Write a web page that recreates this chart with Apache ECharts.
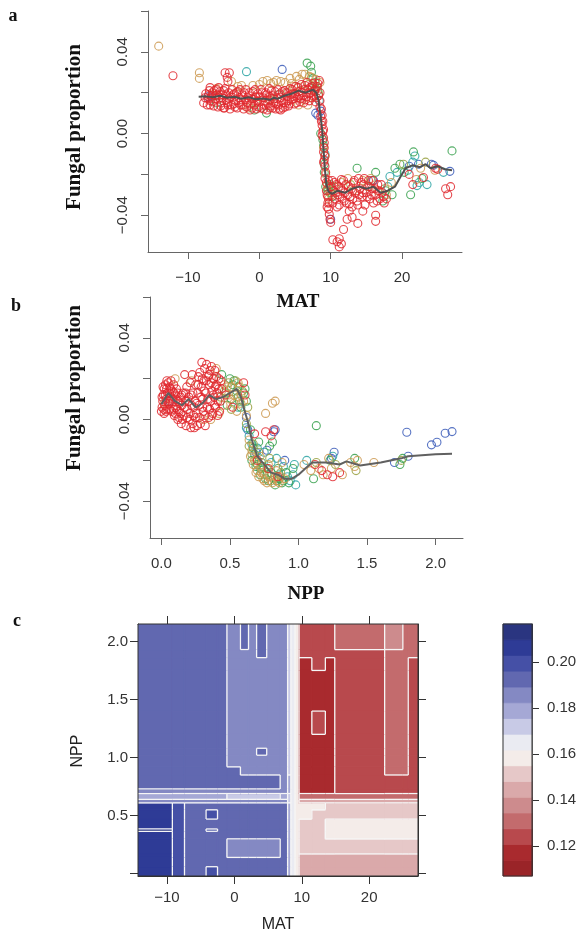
<!DOCTYPE html>
<html><head><meta charset="utf-8">
<script src="https://cdn.jsdelivr.net/npm/echarts@6/dist/echarts.min.js"></script>
<style>html,body{margin:0;padding:0;background:#fff}#chart{width:583px;height:938px}</style>
</head><body><div id="chart"></div>
<script>
// ---------------- DATA ----------------
// Panel a: MAT vs fungal proportion
const aRed = [[-12.1,0.0283],[-4.8,0.0298],[-4.2,0.0298],[-4.5,0.0275],[-4.4,0.0255],[-6.9,0.0140],[-5.0,0.0125],[1.5,0.0125],[3.0,0.0115],
[-7.8,0.0150],[-7.5,0.0195],[-7.2,0.0170],[-7.0,0.0210],[-6.8,0.0160],[-6.6,0.0200],[-6.4,0.0135],[-6.2,0.0185],[-6.0,0.0215],[-5.8,0.0130],[-5.6,0.0175],[-5.5,0.0205],[-5.3,0.0150],[-5.1,0.0190],[-4.9,0.0125],[-4.8,0.0220],[-4.6,0.0165],[-4.4,0.0140],[-4.3,0.0200],[-4.1,0.0120],[-4.0,0.0180],[-3.8,0.0215],[-3.6,0.0145],[-3.5,0.0195],[-3.3,0.0160],[-3.1,0.0125],[-3.0,0.0205],[-2.8,0.0175],[-2.6,0.0140],[-2.4,0.0190],[-2.2,0.0120],[-2.0,0.0165],[-1.9,0.0215],[-1.7,0.0150],[-1.5,0.0185],[-1.3,0.0115],[-1.1,0.0170],[-0.9,0.0205],[-0.7,0.0140],[-0.5,0.0180],[-0.4,0.0120],[-0.2,0.0195],[0.0,0.0155],[0.2,0.0215],[0.3,0.0125],[0.5,0.0175],[0.7,0.0140],[0.9,0.0200],[1.1,0.0115],[1.3,0.0165],[1.4,0.0220],[1.6,0.0135],[1.8,0.0185],[2.0,0.0150],[2.2,0.0205],[2.3,0.0120],[2.5,0.0170],[2.7,0.0140],[2.9,0.0195],[3.1,0.0160],[3.3,0.0125],[3.5,0.0210],[3.7,0.0150],[3.9,0.0180],[4.1,0.0135],[4.3,0.0220],[4.5,0.0165],[4.7,0.0195],[4.9,0.0145],[5.1,0.0230],[5.3,0.0175],[5.5,0.0205],[5.7,0.0155],[5.9,0.0240],[6.1,0.0185],[6.3,0.0215],[6.5,0.0165],[6.7,0.0250],[6.9,0.0195],[7.1,0.0225],[7.3,0.0175],[7.5,0.0245],[7.7,0.0205],[7.9,0.0155],[8.1,0.0230],[8.3,0.0185],[8.4,0.0260],[8.5,0.0130],
[-7.6,0.0175],[-7.3,0.0140],[-7.1,0.0190],[-6.9,0.0225],[-6.7,0.0180],[-6.5,0.0155],[-6.3,0.0210],[-6.1,0.0170],[-5.9,0.0190],[-5.7,0.0225],[-5.4,0.0135],[-5.2,0.0175],[-5.0,0.0210],[-4.7,0.0190],[-4.5,0.0150],[-4.2,0.0170],[-3.9,0.0140],[-3.7,0.0190],[-3.4,0.0130],[-3.2,0.0200],[-2.9,0.0150],[-2.7,0.0215],[-2.5,0.0165],[-2.3,0.0140],[-2.1,0.0200],[-1.8,0.0130],[-1.6,0.0175],[-1.4,0.0200],[-1.2,0.0145],[-1.0,0.0125],[-0.8,0.0170],[-0.6,0.0215],[-0.3,0.0160],[-0.1,0.0130],[0.1,0.0180],[0.4,0.0200],[0.6,0.0120],[0.8,0.0160],[1.0,0.0190],[1.2,0.0145],[1.5,0.0180],[1.7,0.0210],[1.9,0.0125],[2.1,0.0170],[2.4,0.0145],[2.6,0.0215],[2.8,0.0120],[3.0,0.0175],[3.2,0.0205],[3.4,0.0150],[3.6,0.0130],[3.8,0.0200],[4.0,0.0160],[4.2,0.0145],[4.4,0.0190],[4.6,0.0215],[4.8,0.0170],[5.0,0.0195],[5.2,0.0150],[5.4,0.0225],[5.6,0.0185],[5.8,0.0170],[6.0,0.0200],[6.2,0.0150],[6.4,0.0235],[6.6,0.0180],[6.8,0.0215],[7.0,0.0160],[7.2,0.0200],[7.4,0.0230],[7.6,0.0185],[7.8,0.0215],[8.0,0.0175],[8.2,0.0245],[8.5,0.0200],[8.5,0.0160],
[8.6,0.0085],[8.7,0.0060],[8.8,0.0040],[8.9,0.0010],[9.0,-0.0020],[9.1,-0.0045],[9.0,-0.0090],[9.1,-0.0130],[9.2,-0.0160],
[8.7,0.0120],[8.8,0.0090],[8.9,0.0060],[8.8,-0.0010],[9.0,0.0020],[9.1,-0.0070],[9.2,-0.0110],[9.0,-0.0140],[9.3,-0.0190],[9.2,-0.0220],[9.4,-0.0280],[9.5,-0.0360],[9.6,-0.0310],[9.8,-0.0340],[9.7,-0.0230],
[9.4,-0.0240],[9.5,-0.0300],[9.6,-0.0340],[9.7,-0.0370],[9.8,-0.0395],[9.9,-0.0420],[10.0,-0.0435],
[10.2,-0.0230],[10.4,-0.0280],[10.6,-0.0320],[10.8,-0.0250],[11.0,-0.0300],[11.2,-0.0350],[11.4,-0.0270],[11.6,-0.0320],[11.8,-0.0230],[12.0,-0.0290],[12.2,-0.0340],[12.5,-0.0260],[12.7,-0.0310],[13.0,-0.0360],[13.2,-0.0240],[13.4,-0.0290],[13.7,-0.0330],[13.9,-0.0220],[14.1,-0.0270],[14.4,-0.0310],[14.6,-0.0250],[14.8,-0.0350],[15.0,-0.0290],[15.3,-0.0230],[15.5,-0.0320],[15.8,-0.0270],[16.0,-0.0340],[16.3,-0.0300],[16.6,-0.0250],[16.9,-0.0320],[17.2,-0.0290],[17.5,-0.0340],
[10.1,-0.0260],[10.3,-0.0340],[10.5,-0.0240],[10.7,-0.0290],[10.9,-0.0360],[11.1,-0.0260],[11.3,-0.0310],[11.5,-0.0225],[11.7,-0.0280],[11.9,-0.0330],[12.1,-0.0250],[12.4,-0.0300],[12.6,-0.0345],[12.9,-0.0270],[13.1,-0.0320],[13.3,-0.0230],[13.6,-0.0280],[13.8,-0.0350],[14.0,-0.0300],[14.3,-0.0240],[14.5,-0.0290],[14.7,-0.0220],[15.1,-0.0310],[15.4,-0.0260],[15.7,-0.0300],[15.9,-0.0230],[16.2,-0.0270],[16.5,-0.0330],[16.8,-0.0280],[17.1,-0.0250],[17.4,-0.0310],[17.8,-0.0320],
[10.3,-0.0520],[10.9,-0.0530],[11.2,-0.0515],[11.5,-0.0540],[11.2,-0.0555],[11.8,-0.0470],[12.3,-0.0420],[13.0,-0.0410],[13.8,-0.0440],[16.3,-0.0400],[16.3,-0.0430],[12.6,-0.0380],[14.5,-0.0380],
[21.0,-0.0200],[21.5,-0.0250],[23.0,-0.0215],[24.7,-0.0170],[26.1,-0.0270],[26.4,-0.0300],[26.8,-0.0260],[25.0,-0.0175]];
const aTan = [[-14.1,0.0428],[-8.4,0.0298],[-8.4,0.0270],[-6.5,0.0190],[-3.9,0.0255],[-3.0,0.0230],[-1.5,0.0125],[-0.9,0.0235],[0.5,0.0255],[1.1,0.0260],[1.6,0.0245],[2.4,0.0260],[3.6,0.0250],[4.3,0.0270],[4.8,0.0230],[5.2,0.0280],[5.5,0.0140],[6.0,0.0290],[6.4,0.0290],[6.8,0.0140],[7.3,0.0275],[7.6,0.0180],[8.1,0.0230],[8.5,0.0250],[9.0,-0.0070],[9.3,-0.0200],[9.5,-0.0250],[9.7,-0.0320],[10.1,-0.0300],[11.5,-0.0240],[12.4,-0.0220],[13.1,-0.0280],[14.5,-0.0230],[15.6,-0.0220],[16.6,-0.0280],[17.8,-0.0300],[18.5,-0.0240],[22.6,-0.0170],[24.6,-0.0180],[22.0,-0.0225],
[-6.0,0.0220],[-2.5,0.0235],[0.0,0.0240],[2.0,0.0250],[3.0,0.0255],[4.5,0.0245],[5.6,0.0265],[7.0,0.0280],[7.9,0.0265]];
const aOlive = [[-0.5,0.0150],[1.5,0.0165],[4.0,0.0200],[5.8,0.0210],[6.9,0.0240],[7.7,0.0210],[8.3,0.0195],[9.2,-0.0110],[9.6,-0.0270],[10.5,-0.0260],[12.8,-0.0250],[15.2,-0.0260],[17.6,-0.0270],[20.2,-0.0150],[23.3,-0.0140]];
const aGreen = [[-6.0,0.0150],[-0.7,0.0115],[1.0,0.0100],[2.7,0.0190],[6.7,0.0345],[7.2,0.0330],[7.3,0.0300],[7.5,0.0270],[7.8,0.0250],[7.9,0.0220],[8.2,0.0210],[8.6,0.0000],[8.9,-0.0030],[9.0,-0.0060],[9.1,-0.0150],[9.1,-0.0190],[9.3,-0.0260],[9.6,-0.0280],[9.8,-0.0260],[10.0,-0.0290],[10.2,-0.0310],[9.9,-0.0250],[13.7,-0.0170],[16.3,-0.0190],[17.3,-0.0330],[17.7,-0.0280],[18.6,-0.0300],[19.0,-0.0170],[19.7,-0.0150],[20.3,-0.0190],[21.2,-0.0300],[21.6,-0.0090],[22.8,-0.0220],[27.0,-0.0085]];
const aTeal = [[-1.8,0.0303],[8.4,0.0160],[9.2,-0.0100],[15.7,-0.0230],[18.0,-0.0260],[18.3,-0.0210],[19.3,-0.0190],[20.8,-0.0180],[21.8,-0.0110],[21.5,-0.0140],[22.1,-0.0255],[22.4,-0.0240],[23.5,-0.0250],[25.8,-0.0190]];
const aBlue = [[-7.2,0.0180],[-6.7,0.0185],[3.2,0.0314],[7.9,0.0100],[8.2,0.0090],[8.6,0.0110],[10.0,-0.0420],[16.0,-0.0230],[21.0,-0.0160],[22.3,-0.0150],[24.1,-0.0150],[24.4,-0.0155],[26.7,-0.0185]];
const aLine = [[-8.5,0.0180],[-7.5,0.0182],[-6.5,0.0178],[-5.5,0.0185],[-4.5,0.0175],[-3.5,0.0180],[-2.5,0.0170],[-1.5,0.0178],[-0.5,0.0168],[0.5,0.0172],[1.5,0.0165],[2.0,0.0175],[2.5,0.0170],[3.5,0.0185],[4.5,0.0195],[5.5,0.0210],[6.5,0.0200],[7.5,0.0215],[8.0,0.0200],[8.3,0.0160],[8.6,0.0080],[8.8,0.0020],[9.0,-0.0080],[9.2,-0.0180],[9.4,-0.0250],[9.7,-0.0285],[10.2,-0.0295],[11.0,-0.0280],[12.0,-0.0290],[13.0,-0.0270],[14.0,-0.0260],[15.0,-0.0270],[16.0,-0.0260],[17.0,-0.0290],[18.0,-0.0280],[19.0,-0.0260],[19.8,-0.0210],[20.5,-0.0170],[21.5,-0.0155],[22.5,-0.0165],[23.3,-0.0150],[24.0,-0.0170],[25.0,-0.0160],[26.0,-0.0175],[27.0,-0.0180]];

// Panel b: NPP vs fungal proportion
const bRed = [[0.00,0.004],[0.005,0.006],[0.01,0.009],[0.015,0.012],[0.02,0.003],[0.02,0.015],[0.025,0.007],[0.03,0.017],[0.035,0.010],[0.04,0.019],[0.04,0.005],[0.045,0.013],[0.05,0.018],[0.055,0.008],[0.06,0.016],[0.065,0.011],[0.07,0.019],[0.075,0.004],[0.08,0.014],[0.085,0.009],
[0.09,0.017],[0.095,0.002],[0.10,0.012],[0.105,0.006],[0.11,0.015],[0.12,0.000],[0.125,0.009],[0.13,0.004],[0.14,0.011],[0.145,-0.002],[0.15,0.007],[0.16,0.013],[0.165,0.002],[0.17,0.022],[0.175,0.009],[0.18,-0.003],[0.185,0.016],[0.19,0.005],[0.20,0.011],[0.205,0.000],[0.21,0.018],[0.215,-0.004],[0.22,0.007],[0.225,0.022],[0.23,0.013],[0.235,0.002],[0.24,-0.004],[0.245,0.009],[0.25,0.017],
[0.255,0.003],[0.26,-0.003],[0.265,0.013],[0.27,0.021],[0.275,0.007],[0.28,0.023],[0.285,-0.002],[0.29,0.016],[0.295,0.028],[0.30,0.010],[0.305,0.004],[0.31,0.019],[0.315,0.025],[0.32,-0.003],[0.325,0.013],[0.33,0.027],[0.335,0.006],[0.34,0.021],[0.345,0.001],[0.35,0.017],[0.355,0.024],[0.36,0.009],[0.365,0.026],[0.37,0.014],[0.375,0.003],[0.38,0.020],[0.385,0.011],[0.39,0.024],[0.395,0.006],[0.40,0.017],[0.405,0.013],[0.41,0.002],[0.42,0.020],[0.43,0.009],[0.44,0.015],
[0.005,0.011],[0.012,0.016],[0.018,0.005],[0.028,0.012],[0.033,0.004],[0.038,0.015],[0.048,0.009],[0.058,0.013],[0.062,0.005],[0.068,0.015],[0.078,0.010],[0.088,0.005],[0.092,0.013],[0.102,0.003],[0.108,0.010],[0.115,0.005],[0.118,0.013],[0.128,0.001],[0.135,0.008],[0.142,0.003],[0.148,0.012],[0.155,0.000],[0.168,0.006],[0.178,0.013],[0.188,0.001],[0.195,0.009],[0.21,0.003],[0.218,0.012],[0.228,-0.002],[0.238,0.006],[0.248,0.001],[0.258,0.008],[0.268,0.017],[0.278,0.001],[0.288,0.011],[0.298,0.020],[0.302,0.006],[0.312,0.014],[0.318,0.002],[0.328,0.019],[0.338,0.010],[0.348,0.022],[0.352,0.005],[0.362,0.018],[0.368,0.002],[0.378,0.012],[0.388,0.007],[0.392,0.016],[0.402,0.021],[0.412,0.009],[0.418,0.015],[0.425,0.004],[0.435,0.019],
[0.47,0.012],[0.52,0.006],[0.60,0.018],[0.61,0.012],[0.68,-0.007],[0.70,-0.020],[0.76,-0.006],[0.80,-0.008],[0.82,-0.005],[0.78,-0.024],[0.85,-0.028],[1.12,-0.022],[1.17,-0.025],[1.21,-0.027],[1.25,-0.028],[1.30,-0.026]];
const bTan = [[0.02,0.008],[0.10,0.020],[0.22,0.019],[0.31,0.000],[0.36,0.000],[0.40,0.025],[0.42,0.003],[0.45,0.007],[0.48,0.016],[0.50,0.010],[0.53,0.012],[0.55,0.004],[0.57,0.016],[0.58,0.008],[0.62,0.002],[0.64,-0.010],[0.66,-0.015],[0.68,-0.020],[0.70,-0.025],[0.72,-0.018],[0.74,-0.029],[0.76,0.003],[0.78,-0.022],[0.80,-0.030],[0.81,0.008],[0.83,0.009],[0.84,-0.025],[0.86,-0.031],[0.88,-0.021],[0.90,-0.029],[1.04,-0.022],[1.09,-0.025],[1.15,-0.024],[1.18,-0.027],[1.22,-0.019],[1.24,-0.024],[1.32,-0.027],[1.38,-0.021],[1.41,-0.023],[1.43,-0.020],[1.55,-0.021],
[0.46,0.017],[0.49,0.012],[0.51,0.016],[0.53,0.008],[0.56,0.018],[0.58,0.012],[0.60,0.009],
[0.65,-0.018],[0.67,-0.022],[0.69,-0.026],[0.71,-0.028],[0.73,-0.026],[0.75,-0.030],[0.77,-0.031],[0.79,-0.028],[0.81,-0.031],[0.83,-0.028],[0.85,-0.030],[0.87,-0.028]];
const bOlive = [[0.38,0.020],[0.43,0.011],[0.46,0.014],[0.49,0.018],[0.51,0.005],[0.54,0.019],[0.56,0.011],[0.59,0.014],[0.63,0.006],[0.67,-0.012],[0.71,-0.016],[0.75,-0.027],[0.79,-0.019],[0.82,-0.029],[0.87,-0.026],[1.13,-0.021],[1.27,-0.022],[1.42,-0.025],[1.75,-0.020],
[0.62,-0.002],[0.64,-0.013],[0.66,-0.017],[0.69,-0.021],[0.73,-0.024],[0.77,-0.024]];
const bGreen = [[0.44,0.022],[0.48,0.007],[0.50,0.020],[0.52,0.017],[0.55,0.014],[0.57,0.009],[0.60,0.013],[0.62,0.009],[0.65,-0.005],[0.67,-0.014],[0.69,-0.023],[0.71,-0.011],[0.73,-0.021],[0.77,-0.027],[0.79,-0.013],[0.81,-0.011],[0.83,-0.032],[0.85,-0.024],[0.88,-0.031],[0.91,-0.026],[0.96,-0.024],[1.13,-0.003],[1.11,-0.029],[1.23,-0.020],[1.41,-0.019],[1.74,-0.022],[1.76,-0.019],
[0.47,0.013],[0.51,0.010],[0.53,0.019],[0.56,0.016],[0.58,0.006],[0.61,0.015],
[0.66,-0.020],[0.68,-0.017],[0.70,-0.022],[0.72,-0.027],[0.74,-0.023],[0.76,-0.029],[0.78,-0.030],[0.80,-0.026],[0.84,-0.030],[0.86,-0.029],[0.89,-0.030],[0.93,-0.031]];
const bTeal = [[0.56,0.006],[0.62,-0.004],[0.64,-0.008],[0.66,-0.012],[0.70,-0.014],[0.72,-0.024],[0.75,-0.016],[0.80,-0.021],[0.84,-0.019],[0.86,-0.027],[0.89,-0.023],[0.92,-0.028],[0.94,-0.030],[0.96,-0.027],[0.98,-0.032],[0.97,-0.022],[1.06,-0.020],[1.25,-0.018]];
const bBlue = [[0.06,0.009],[0.62,0.001],[0.63,-0.005],[0.69,-0.016],[0.77,-0.015],[0.82,-0.006],[0.83,-0.005],[0.90,-0.020],[1.26,-0.016],[1.24,-0.019],[1.70,-0.021],[1.79,-0.0062],[1.80,-0.018],[1.97,-0.0124],[2.01,-0.0111],[2.07,-0.0067],[2.12,-0.0059]];
const bLine = [[0.0,0.0075],[0.05,0.013],[0.1,0.009],[0.15,0.007],[0.2,0.010],[0.25,0.006],[0.3,0.008],[0.35,0.012],[0.4,0.010],[0.45,0.011],[0.5,0.013],[0.55,0.015],[0.58,0.011],[0.6,0.006],[0.63,-0.001],[0.66,-0.010],[0.7,-0.018],[0.75,-0.022],[0.8,-0.026],[0.85,-0.027],[0.9,-0.029],[0.95,-0.029],[1.0,-0.027],[1.05,-0.024],[1.1,-0.021],[1.2,-0.021],[1.3,-0.022],[1.35,-0.0205],[1.45,-0.0225],[1.5,-0.022],[1.6,-0.021],[1.75,-0.019],[1.8,-0.018],[2.0,-0.017],[2.12,-0.0168]];

// Panel c: MAT x NPP contour values (rows listed from highest NPP to lowest)
const cMatEdges = [-14.3,-9.2,-7.4,-4.2,-2.5,-1.1,0.9,2.1,3.3,4.8,6.8,7.9,8.4,9.0,9.6,11.5,13.5,14.9,22.3,25.0,25.8,27.25];
const cNppEdges = [-0.02,0.06,0.14,0.17,0.3,0.365,0.385,0.47,0.55,0.61,0.64,0.69,0.73,0.85,0.92,1.02,1.08,1.2,1.4,1.75,1.86,1.93,2.15];
const cValues = [
[0.193,0.193,0.193,0.193,0.193,0.186,0.193,0.186,0.193,0.186,0.186,0.172,0.165,0.158,0.124,0.124,0.124,0.131,0.138,0.131,0.131],
[0.193,0.193,0.193,0.193,0.193,0.186,0.186,0.186,0.193,0.186,0.186,0.172,0.165,0.158,0.124,0.124,0.124,0.124,0.131,0.131,0.131],
[0.193,0.193,0.193,0.193,0.193,0.186,0.186,0.186,0.186,0.186,0.186,0.172,0.165,0.158,0.117,0.124,0.117,0.124,0.131,0.131,0.124],
[0.193,0.193,0.193,0.193,0.193,0.186,0.186,0.186,0.186,0.186,0.186,0.172,0.165,0.158,0.117,0.117,0.117,0.124,0.131,0.131,0.124],
[0.193,0.193,0.193,0.193,0.193,0.186,0.186,0.186,0.186,0.186,0.186,0.172,0.165,0.158,0.117,0.124,0.117,0.124,0.131,0.131,0.124],
[0.193,0.193,0.193,0.193,0.193,0.186,0.186,0.186,0.186,0.186,0.186,0.172,0.165,0.158,0.117,0.117,0.117,0.124,0.131,0.131,0.124],
[0.193,0.193,0.193,0.193,0.193,0.186,0.186,0.186,0.193,0.186,0.186,0.172,0.165,0.158,0.117,0.117,0.117,0.124,0.131,0.131,0.124],
[0.193,0.193,0.193,0.193,0.193,0.186,0.186,0.186,0.186,0.186,0.186,0.172,0.165,0.158,0.117,0.117,0.117,0.124,0.131,0.131,0.124],
[0.193,0.193,0.193,0.193,0.193,0.193,0.186,0.186,0.186,0.186,0.186,0.172,0.165,0.158,0.117,0.117,0.117,0.124,0.131,0.131,0.124],
[0.193,0.193,0.193,0.193,0.193,0.193,0.193,0.193,0.193,0.193,0.186,0.179,0.165,0.158,0.117,0.117,0.117,0.124,0.124,0.124,0.124],
[0.186,0.186,0.186,0.186,0.186,0.186,0.186,0.186,0.186,0.186,0.186,0.179,0.165,0.158,0.117,0.117,0.117,0.124,0.124,0.124,0.124],
[0.179,0.179,0.179,0.179,0.179,0.172,0.172,0.172,0.172,0.172,0.179,0.172,0.165,0.158,0.131,0.131,0.131,0.131,0.131,0.131,0.131],
[0.186,0.186,0.186,0.186,0.186,0.186,0.186,0.186,0.186,0.186,0.186,0.172,0.165,0.158,0.145,0.145,0.145,0.145,0.145,0.145,0.145],
[0.206,0.199,0.193,0.193,0.193,0.193,0.193,0.193,0.193,0.193,0.193,0.179,0.165,0.158,0.158,0.158,0.151,0.151,0.151,0.151,0.151],
[0.206,0.199,0.193,0.199,0.193,0.193,0.193,0.193,0.193,0.193,0.193,0.179,0.165,0.158,0.158,0.151,0.151,0.151,0.151,0.151,0.151],
[0.206,0.199,0.193,0.193,0.193,0.193,0.193,0.193,0.193,0.193,0.193,0.179,0.165,0.158,0.151,0.151,0.158,0.158,0.158,0.158,0.158],
[0.213,0.199,0.193,0.199,0.193,0.193,0.193,0.193,0.193,0.193,0.193,0.179,0.165,0.158,0.151,0.151,0.158,0.158,0.158,0.158,0.158],
[0.206,0.199,0.193,0.193,0.193,0.193,0.193,0.193,0.193,0.193,0.193,0.179,0.165,0.158,0.151,0.151,0.158,0.158,0.158,0.158,0.158],
[0.206,0.199,0.193,0.193,0.193,0.186,0.186,0.186,0.186,0.186,0.193,0.179,0.165,0.158,0.151,0.151,0.151,0.151,0.151,0.151,0.151],
[0.206,0.199,0.193,0.193,0.193,0.186,0.186,0.186,0.186,0.186,0.193,0.179,0.165,0.158,0.145,0.145,0.145,0.145,0.145,0.145,0.145],
[0.206,0.199,0.193,0.193,0.193,0.193,0.193,0.193,0.193,0.193,0.193,0.179,0.165,0.158,0.145,0.145,0.145,0.145,0.145,0.145,0.145],
[0.206,0.199,0.193,0.199,0.193,0.193,0.193,0.193,0.193,0.193,0.193,0.179,0.165,0.158,0.145,0.145,0.145,0.145,0.145,0.145,0.145]
];
// colour key range and levels
const cLevelMin = 0.107, cLevelMax = 0.2165, cLevelCount = 16;

// tick values
const aXTicks = [-10,0,10,20];
const fpTicks = [-0.04,-0.02,0,0.02,0.04,0.06];
const fpLabels = [-0.04,0,0.04];
const bXTicks = [0,0.5,1,1.5,2];
const cXTicks = [-10,0,10,20];
const cYTicks = [0,0.5,1,1.5,2];
const cYLabels = [0.5,1,1.5,2];
const keyTicks = [0.12,0.14,0.16,0.18,0.20];

// ---------------- STYLE ----------------
const SERIF = '"Liberation Serif","Times New Roman",serif';
const SANS = '"Liberation Sans",Arial,Helvetica,sans-serif';
const PALETTE = ['#9a2428','#a92a2e','#b8494d','#c36b6d','#cd8b8d','#daa9aa','#e6c8c8','#f4ece9','#eaebf2','#c8cae6','#a5a8d5','#8489c3','#6168b0','#4550a6','#2e3b96','#2a3580'];
const COL = {red:'#e0282e', tan:'#cc9950', olive:'#98a040', green:'#36a04c', teal:'#2aa3a3', blue:'#3a5ab8'};
const step = (cLevelMax - cLevelMin) / cLevelCount;
function bandOf(v){ return Math.max(0, Math.min(cLevelCount-1, Math.floor((v - cLevelMin)/step))); }

const minus = s => s.replace('-', '\u2212');
const fmt2 = v => minus(Number(v).toFixed(2));
const fmt1 = v => minus(Number(v).toFixed(1));
const fmt0 = v => minus(String(Math.round(v)));

function abXAxis(grid, min, max, ticks, f){
  return {type:'value', gridIndex:grid, min, max,
    axisLine:{show:true, onZero:false, lineStyle:{color:'#666', width:1}},
    axisTick:{show:true, length:7, customValues:ticks, lineStyle:{color:'#666', width:1}},
    axisLabel:{customValues:ticks, margin:18, fontSize:15, fontFamily:SANS, color:'#333', formatter:f},
    splitLine:{show:false}};
}
function abYAxis(grid){
  return {type:'value', gridIndex:grid, min:-0.058, max:0.06,
    axisLine:{show:true, onZero:false, lineStyle:{color:'#666', width:1}},
    axisTick:{show:true, length:7, customValues:fpTicks, lineStyle:{color:'#666', width:1}},
    axisLabel:{customValues:fpLabels, rotate:90, margin:18, fontSize:15, fontFamily:SANS, color:'#333', formatter:fmt2},
    splitLine:{show:false}};
}
function cAxis(extra){
  return Object.assign({type:'value', splitLine:{show:false},
    axisLine:{show:true, onZero:false, lineStyle:{color:'#333', width:1}}}, extra);
}
function sc(data, color, xi, yi){
  return {type:'scatter', xAxisIndex:xi, yAxisIndex:yi, data, symbol:'circle', symbolSize:8,
    itemStyle:{color:'rgba(0,0,0,0)', borderColor:color, borderWidth:1.1, opacity:0.85},
    silent:true, animation:false};
}
function ln(data, xi, yi, color){
  return {type:'line', xAxisIndex:xi, yAxisIndex:yi, data, showSymbol:false, symbol:'none', z:5,
    lineStyle:{color, width:2}, silent:true, animation:false};
}

// contour cells and boundary lines
const nRows = cNppEdges.length - 1, nCols = cMatEdges.length - 1;
const grid = [];
for (let r = 0; r < cValues.length; r++) grid[nRows - 1 - r] = cValues[r];
const cells = [], edges = [];
for (let i = 0; i < nRows; i++) {
  for (let j = 0; j < nCols; j++) {
    const v = grid[i][j];
    cells.push([cMatEdges[j], cMatEdges[j+1], cNppEdges[i], cNppEdges[i+1], v]);
    if (j + 1 < nCols && bandOf(grid[i][j+1]) !== bandOf(v))
      edges.push([cMatEdges[j+1], cNppEdges[i], cMatEdges[j+1], cNppEdges[i+1]]);
    if (i + 1 < nRows && bandOf(grid[i+1][j]) !== bandOf(v))
      edges.push([cMatEdges[j], cNppEdges[i+1], cMatEdges[j+1], cNppEdges[i+1]]);
  }
}
const keyBands = [];
for (let k = 0; k < cLevelCount; k++) keyBands.push([cLevelMin + k*step, cLevelMin + (k+1)*step, k]);

const chart = echarts.init(document.getElementById('chart'), null, {renderer:'canvas'});
chart.setOption({
  animation:false,
  backgroundColor:'#fff',
  grid:[
    {left:148, top:11, width:314, height:241},
    {left:150, top:297, width:313, height:241},
    {left:138, top:624, width:280, height:252, show:true, borderColor:'#333', borderWidth:1, backgroundColor:'rgba(0,0,0,0)', z:10},
    {left:503, top:624, width:29, height:252, show:true, borderColor:'#333', borderWidth:1, backgroundColor:'rgba(0,0,0,0)', z:10}
  ],
  xAxis:[
    abXAxis(0, -15.6, 28.4, aXTicks, fmt0),
    abXAxis(1, -0.083, 2.2, bXTicks, fmt1),
    cAxis({gridIndex:2, min:-14.3, max:27.25, position:'bottom',
      axisTick:{show:true, length:8, customValues:cXTicks, lineStyle:{color:'#333'}},
      axisLabel:{customValues:cXTicks, margin:14, fontSize:15, fontFamily:SANS, color:'#333', formatter:fmt0}}),
    cAxis({gridIndex:2, min:-14.3, max:27.25, position:'top',
      axisTick:{show:true, length:8, customValues:cXTicks, lineStyle:{color:'#333'}},
      axisLabel:{show:false}}),
    {type:'value', gridIndex:3, min:0, max:1, show:false}
  ],
  yAxis:[
    abYAxis(0),
    abYAxis(1),
    cAxis({gridIndex:2, min:-0.02, max:2.15, position:'left',
      axisTick:{show:true, length:8, customValues:cYTicks, lineStyle:{color:'#333'}},
      axisLabel:{customValues:cYLabels, margin:10, fontSize:15, fontFamily:SANS, color:'#333', formatter:fmt1}}),
    cAxis({gridIndex:2, min:-0.02, max:2.15, position:'right',
      axisTick:{show:true, length:8, customValues:cYTicks, lineStyle:{color:'#333'}},
      axisLabel:{show:false}}),
    cAxis({gridIndex:3, min:cLevelMin, max:cLevelMax, position:'right',
      axisTick:{show:true, length:7, customValues:keyTicks, lineStyle:{color:'#333'}},
      axisLabel:{customValues:keyTicks, margin:15, fontSize:15, fontFamily:SANS, color:'#333', formatter:fmt2}})
  ],
  series:[
    sc(aBlue, COL.blue, 0, 0), sc(aTeal, COL.teal, 0, 0), sc(aGreen, COL.green, 0, 0),
    sc(aOlive, COL.olive, 0, 0), sc(aTan, COL.tan, 0, 0), sc(aRed, COL.red, 0, 0),
    ln(aLine, 0, 0, '#505050'),
    sc(bBlue, COL.blue, 1, 1), sc(bTeal, COL.teal, 1, 1), sc(bGreen, COL.green, 1, 1),
    sc(bOlive, COL.olive, 1, 1), sc(bTan, COL.tan, 1, 1), sc(bRed, COL.red, 1, 1),
    ln(bLine, 1, 1, '#606060'),
    {type:'custom', xAxisIndex:2, yAxisIndex:2, coordinateSystem:'cartesian2d', clip:true, silent:true, data:cells,
      renderItem:(p, api) => {
        const a = api.coord([api.value(0), api.value(3)]);
        const b = api.coord([api.value(1), api.value(2)]);
        const c = PALETTE[bandOf(api.value(4))];
        return {type:'rect', shape:{x:a[0], y:a[1], width:b[0]-a[0], height:b[1]-a[1]}, style:{fill:c, stroke:c, lineWidth:1.2}};
      }},
    {type:'custom', xAxisIndex:2, yAxisIndex:2, coordinateSystem:'cartesian2d', clip:true, silent:true, z:4, data:edges,
      renderItem:(p, api) => {
        const a = api.coord([api.value(0), api.value(1)]);
        const b = api.coord([api.value(2), api.value(3)]);
        return {type:'line', shape:{x1:a[0], y1:a[1], x2:b[0], y2:b[1]}, style:{stroke:'#f6f6f6', lineWidth:1.3}};
      }},
    {type:'custom', xAxisIndex:4, yAxisIndex:4, coordinateSystem:'cartesian2d', silent:true, data:keyBands,
      renderItem:(p, api) => {
        const a = api.coord([0, api.value(1)]);
        const b = api.coord([1, api.value(0)]);
        const c = PALETTE[api.value(2)];
        return {type:'rect', shape:{x:a[0], y:a[1], width:b[0]-a[0], height:b[1]-a[1]}, style:{fill:c, stroke:c, lineWidth:0.8}};
      }}
  ],
  graphic:[
    {type:'text', x:13, y:16, style:{text:'a', font:'bold 18px '+SERIF, fill:'#111', textAlign:'center', textVerticalAlign:'middle'}},
    {type:'text', x:16, y:306, style:{text:'b', font:'bold 18px '+SERIF, fill:'#111', textAlign:'center', textVerticalAlign:'middle'}},
    {type:'text', x:17, y:621, style:{text:'c', font:'bold 18px '+SERIF, fill:'#111', textAlign:'center', textVerticalAlign:'middle'}},
    {type:'text', x:75, y:127, rotation:Math.PI/2, style:{text:'Fungal proportion', font:'bold 21px '+SERIF, fill:'#111', textAlign:'center', textVerticalAlign:'middle'}},
    {type:'text', x:75, y:388, rotation:Math.PI/2, style:{text:'Fungal proportion', font:'bold 21px '+SERIF, fill:'#111', textAlign:'center', textVerticalAlign:'middle'}},
    {type:'text', x:298, y:302, style:{text:'MAT', font:'bold 19px '+SERIF, fill:'#111', textAlign:'center', textVerticalAlign:'middle'}},
    {type:'text', x:306, y:594, style:{text:'NPP', font:'bold 19px '+SERIF, fill:'#111', textAlign:'center', textVerticalAlign:'middle'}},
    {type:'text', x:278, y:925, style:{text:'MAT', font:'16px '+SANS, fill:'#222', textAlign:'center', textVerticalAlign:'middle'}},
    {type:'text', x:78, y:751, rotation:Math.PI/2, style:{text:'NPP', font:'16px '+SANS, fill:'#222', textAlign:'center', textVerticalAlign:'middle'}}
  ]
});
</script></body></html>
